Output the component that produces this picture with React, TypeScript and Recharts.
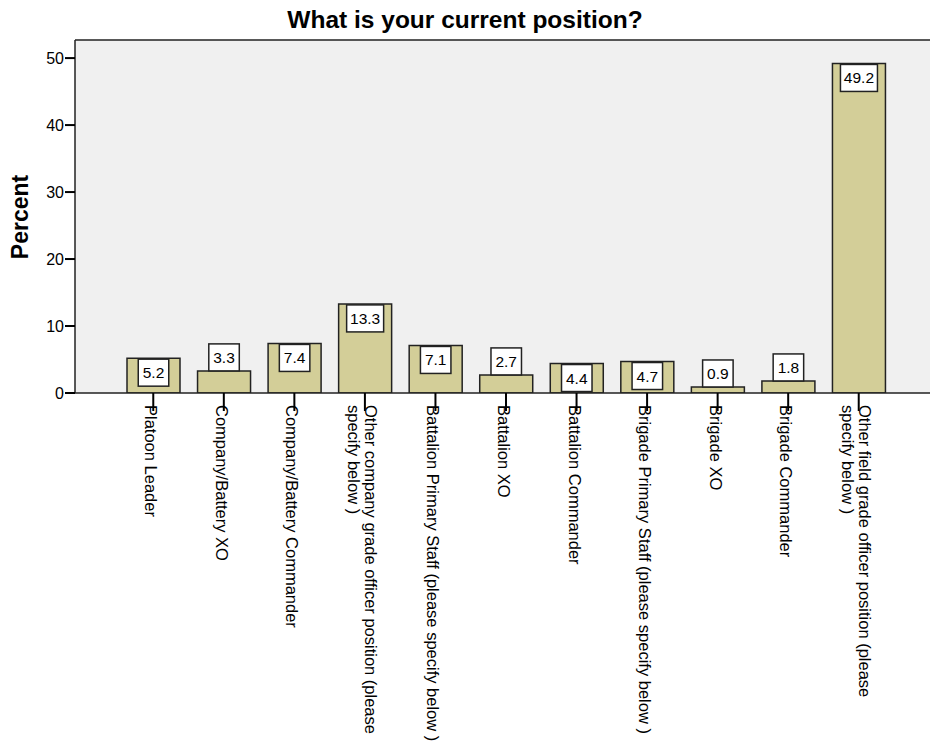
import { BarChart, Bar, XAxis, YAxis, CartesianGrid, ReferenceLine, LabelList } from 'recharts';

const positions = [
    'Platoon Leader',
    'Company/Battery XO',
    'Company/Battery Commander',
    'Other company grade officer position (please specify below )',
    'Battalion Primary Staff (please specify below )',
    'Battalion XO',
    'Battalion Commander',
    'Brigade Primary Staff (please specify below )',
    'Brigade XO',
    'Brigade Commander',
    'Other field grade officer position (please specify below )',
];
const percents = [5.2, 3.3, 7.4, 13.3, 7.1, 2.7, 4.4, 4.7, 0.9, 1.8, 49.2];
const yTicks = [0, 10, 20, 30, 40, 50];

const chartData = positions.map((name, i) => ({ name, percent: percents[i] }));

const FONT = '"Liberation Sans", Arial, sans-serif';
const Y_MAX = 52.7;

// word wrap by character count, roughly what SPSS does
const wrap = (s: string, max = 47) => {
    const words = s.split(' ');
    const lines: string[] = [];
    let cur = '';
    words.forEach((w) => {
        const next = cur ? cur + ' ' + w : w;
        if (next.length > max && cur) {
            lines.push(cur);
            cur = w;
        } else {
            cur = next;
        }
    });
    if (cur) lines.push(cur);
    return lines;
};

const XTick = ({ x, y, payload }: any) => {
    const lines = wrap(payload.value);
    const lineH = 17;
    const first = lines.length > 1 ? 0 : 8;
    return (
        <g transform={`translate(${x},${y - 6}) rotate(90)`}>
            <text x={0} y={first} fontSize={16.5} fontFamily={FONT} fill="#000" textAnchor="start">
                {lines.map((l, i) => (
                    <tspan key={i} x={0} dy={i === 0 ? 0 : lineH}>{l}</tspan>
                ))}
            </text>
        </g>
    );
};

const ValueBox = ({ x, y, width, height, value }: any) => {
    const txt = Number(value).toFixed(1);
    const boxW = txt.length * 6.5 + 11;
    const boxH = 27;
    const cx = x + width / 2;
    const top = height >= boxH + 1 ? y + 1 : y - boxH;
    return (
        <g>
            <rect x={cx - boxW / 2} y={top} width={boxW} height={boxH} fill="#fff" stroke="#222" strokeWidth={1.5} />
            <text x={cx} y={top + boxH / 2 + 5.5} textAnchor="middle" fontSize={15.5} fontFamily={FONT} fill="#000">
                {txt}
            </text>
        </g>
    );
};

const App = () => {
    return (
        <div style={{ position: 'relative', width: 930, height: 746, overflow: 'hidden', background: '#fff' }}>
            <style>{`body{margin:0}`}</style>
            <div
                style={{
                    position: 'absolute', top: 6, left: 0, width: 930, textAlign: 'center',
                    fontFamily: FONT, fontWeight: 'bold', fontSize: 24.5, color: '#000'
                }}
            >
                What is your current position?
            </div>
            <div
                style={{
                    position: 'absolute', left: 20, top: 217, transform: 'translate(-50%,-50%) rotate(-90deg)',
                    fontFamily: FONT, fontWeight: 'bold', fontSize: 23, color: '#000', whiteSpace: 'nowrap'
                }}
            >
                Percent
            </div>
            <div style={{ position: 'absolute', top: 0, left: 0 }}>
                <BarChart width={940} height={746} data={chartData} margin={{ top: 40, right: 3, left: 0, bottom: 0 }}>
                    <CartesianGrid horizontal={false} vertical={false} fill="#f0f0f0" />
                    <ReferenceLine y={Y_MAX} stroke="#222" strokeWidth={1.5} ifOverflow="visible" />
                    <XAxis
                        dataKey="name"
                        interval={0}
                        height={353}
                        padding={{ left: 43, right: 43 }}
                        tickSize={18}
                        tickMargin={0}
                        tickLine={{ stroke: '#000', strokeWidth: 2 }}
                        axisLine={{ stroke: '#222', strokeWidth: 1.5 }}
                        tick={<XTick />}
                    />
                    <YAxis
                        width={75}
                        domain={[0, Y_MAX]}
                        ticks={yTicks}
                        allowDataOverflow
                        tickSize={10}
                        tickMargin={1}
                        tickLine={{ stroke: '#000', strokeWidth: 2 }}
                        axisLine={{ stroke: '#222', strokeWidth: 1.5 }}
                        tick={{ fill: '#000', fontSize: 16, fontFamily: FONT }}
                    />
                    <Bar dataKey="percent" barSize={53} fill="#d3ce98" stroke="#222" strokeWidth={1.5} isAnimationActive={false}>
                        <LabelList dataKey="percent" content={<ValueBox />} />
                    </Bar>
                </BarChart>
            </div>
        </div>
    );
};

export default App;
